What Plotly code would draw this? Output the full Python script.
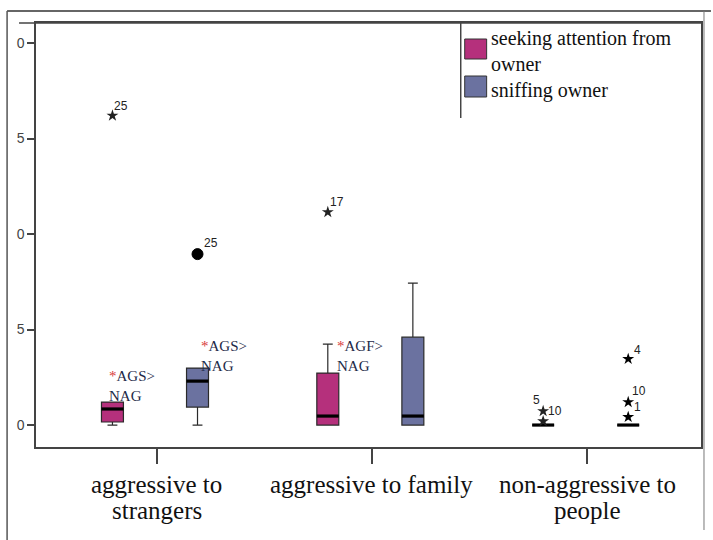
import plotly.graph_objects as go

# ---------------- data ----------------
categories = ["aggressive to strangers", "aggressive to family", "non-aggressive to people"]
cat_lines = [["aggressive to", "strangers"], ["aggressive to family"], ["non-aggressive to", "people"]]
series = ["seeking attention from owner", "sniffing owner"]
colors = ["#B5307C", "#6B72A0"]

# box statistics per category (seeking attention, sniffing)
seek_q1 = [0.16, 0.0, 0.0]
seek_med = [0.84, 0.47, 0.0]
seek_q3 = [1.2, 2.72, 0.0]
seek_lo = [0.0, 0.0, 0.0]
seek_hi = [1.2, 4.24, 0.0]

sniff_q1 = [0.94, 0.0, 0.0]
sniff_med = [2.3, 0.47, 0.0]
sniff_q3 = [2.98, 4.6, 0.0]
sniff_lo = [0.0, 0.0, 0.0]
sniff_hi = [2.98, 7.43, 0.0]

# outliers: category index, value, case label, symbol
seek_out_cat = [0, 1, 2, 2]
seek_out_val = [16.2, 11.15, 0.2, 0.73]
seek_out_lab = ["25", "17", "", "10"]
sniff_out_cat = [0, 2, 2, 2]
sniff_out_val = [8.95, 3.46, 1.2, 0.42]
sniff_out_lab = ["25", "4", "10", "1"]
sniff_out_sym = ["circle", "star", "star", "star"]

y_ticks = [0, 5, 10, 15, 20]
y_ticktext = ["0", "5", "0", "5", "0"]

# significance notes: (text, x left in category units, y top)
notes = [("AGS>", -0.231, 3.09), ("AGS>", 0.199, 4.66), ("AGF>", 0.829, 4.66)]

offsets = [-0.205, 0.19]
box_w = 0.102

fig = go.Figure()

stats = [(seek_q1, seek_med, seek_q3, seek_lo, seek_hi),
         (sniff_q1, sniff_med, sniff_q3, sniff_lo, sniff_hi)]
for s, (q1, med, q3, lo, hi) in enumerate(stats):
    xs = [i + offsets[s] for i in range(len(categories))]
    fig.add_trace(go.Box(
        x=xs, q1=q1, median=med, q3=q3, lowerfence=lo, upperfence=hi,
        width=box_w, whiskerwidth=0.45, fillcolor=colors[s],
        line=dict(color="#2a2a2a", width=1.2), boxpoints=False,
        name=series[s], showlegend=False, hoverinfo="skip"))
    # thick median lines
    mx, my = [], []
    for x, m in zip(xs, med):
        mx += [x - box_w / 2, x + box_w / 2, None]
        my += [m, m, None]
    fig.add_trace(go.Scatter(x=mx, y=my, mode="lines",
                             line=dict(color="black", width=3.2),
                             showlegend=False, hoverinfo="skip"))

# outliers
fig.add_trace(go.Scatter(
    x=[c + offsets[0] for c in seek_out_cat], y=seek_out_val, mode="markers",
    marker=dict(symbol="star", size=9, color="#222", line=dict(width=0)), showlegend=False))
fig.add_trace(go.Scatter(
    x=[c + offsets[1] for c in sniff_out_cat], y=sniff_out_val, mode="markers",
    marker=dict(symbol=sniff_out_sym, size=[11, 9, 9, 9], color="black", opacity=1,
                line=dict(width=[1, 0, 0, 0], color="black")),
    showlegend=False))

lab_font = dict(family="Liberation Sans, Arial", size=12, color="#222")
seek_shift = [(9, 10), (9, 10), (0, 0), (12, 0)]
for c, v, t, (dx, dy) in zip(seek_out_cat, seek_out_val, seek_out_lab, seek_shift):
    if t:
        fig.add_annotation(x=c + offsets[0], y=v, text=t, showarrow=False,
                           xshift=dx, yshift=dy, font=lab_font)
# label "5" for overlapping case at the upper star of non-aggressive group
fig.add_annotation(x=seek_out_cat[3] + offsets[0], y=seek_out_val[3], text="5",
                   showarrow=False, xshift=-7, yshift=11, font=lab_font)
sniff_shift = [(13, 11), (9, 9), (11, 11), (9, 10)]
for c, v, t, (dx, dy) in zip(sniff_out_cat, sniff_out_val, sniff_out_lab, sniff_shift):
    fig.add_annotation(x=c + offsets[1], y=v, text=t, showarrow=False,
                       xshift=dx, yshift=dy, font=lab_font)

# significance notes
for t, x, y in notes:
    fig.add_annotation(x=x, y=y, xanchor="left", yanchor="top", align="left",
                       text="<span style='color:#D83A3A'>*</span>" + t + "<br>NAG",
                       showarrow=False,
                       font=dict(family="Liberation Serif, Times New Roman", size=15, color="#1E2A48"))

# category labels (two-line, tight spacing)
cat_font = dict(family="Liberation Serif, Times New Roman", size=25, color="#111")
for i, lines in enumerate(cat_lines):
    for j, ln in enumerate(lines):
        fig.add_annotation(x=i, y=[-0.0896, -0.1486][j], xref="x", yref="paper",
                           text=ln, showarrow=False, font=cat_font, yanchor="middle")

# legend (manual)
def px_x(p):
    return (p - 36) / 667.0

def px_y(p):
    return (447 - p) / 424.0

leg_font = dict(family="Liberation Serif, Times New Roman", size=20, color="#111")
for s, (y0, y1) in enumerate([(39, 59), (76, 97)]):
    fig.add_shape(type="rect", xref="paper", yref="paper",
                  x0=px_x(466), x1=px_x(488), y0=px_y(y1), y1=px_y(y0),
                  fillcolor=colors[s], line=dict(color="#333", width=1))
fig.add_annotation(xref="paper", yref="paper", x=px_x(490), y=px_y(64),
                   xanchor="left", yanchor="middle", align="left",
                   text="seeking attention from<br>owner<br>" + series[1],
                   showarrow=False, font=leg_font)
fig.add_shape(type="line", xref="paper", yref="paper",
              x0=px_x(462), x1=px_x(462), y0=px_y(118), y1=1,
              line=dict(color="#444", width=1.5))

# outer frame lines / extended top line
frame = dict(color="#444", width=1.5)
fig.add_shape(type="line", xref="paper", yref="paper", x0=px_x(19), x1=1, y0=1, y1=1, line=frame)
fig.add_shape(type="line", xref="paper", yref="paper", x0=px_x(7), x1=px_x(713),
              y0=px_y(11), y1=px_y(11), line=dict(color="#333", width=1.5))
fig.add_shape(type="line", xref="paper", yref="paper", x0=px_x(7), x1=px_x(7),
              y0=px_y(11), y1=px_y(540), line=dict(color="#555", width=1.5))
fig.add_shape(type="line", xref="paper", yref="paper", x0=px_x(706), x1=px_x(706),
              y0=px_y(11), y1=px_y(530), line=dict(color="#777", width=1))

fig.update_layout(
    width=713, height=540,
    margin=dict(l=36, r=10, t=23, b=93),
    paper_bgcolor="white", plot_bgcolor="white",
    boxmode="overlay", showlegend=False,
    xaxis=dict(range=[-0.56, 2.528], tickvals=[0, 1, 2], showticklabels=False,
               ticks="outside", ticklen=15, tickcolor="#444", tickwidth=1.5,
               showline=True, linecolor="#444", linewidth=1.5, mirror=True,
               showgrid=False, zeroline=False),
    yaxis=dict(range=[-1.15, 21.05], tickvals=y_ticks, ticktext=y_ticktext,
               ticks="outside", ticklen=7, tickcolor="#444", tickwidth=1.5,
               tickfont=dict(family="Liberation Sans, Arial", size=14, color="#444"),
               showline=True, linecolor="#444", linewidth=1.5, mirror=True,
               showgrid=False, zeroline=False),
)

fig.write_html("out.html", config={"displayModeBar": False},
               post_script="document.body.style.margin='0';document.body.style.overflow='hidden';")
